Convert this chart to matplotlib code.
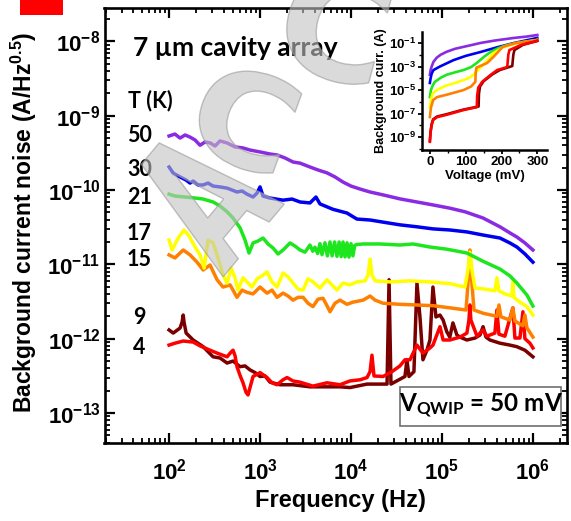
import numpy as np
import matplotlib
matplotlib.use("Agg")
import matplotlib.pyplot as plt
from matplotlib.patches import Rectangle, PathPatch
from matplotlib.textpath import TextPath
from matplotlib.transforms import Affine2D
from matplotlib.font_manager import FontProperties
from matplotlib.ticker import LogLocator, FuncFormatter, NullFormatter, FixedLocator, MultipleLocator

plt.rcParams['font.family'] = ['Liberation Sans', 'DejaVu Sans']
plt.rcParams['font.weight'] = 'bold'
plt.rcParams['mathtext.fontset'] = 'custom'
plt.rcParams['mathtext.rm'] = 'Liberation Sans:bold'
plt.rcParams['mathtext.it'] = 'Liberation Sans:bold'
plt.rcParams['mathtext.bf'] = 'Liberation Sans:bold'
plt.rcParams['mathtext.sf'] = 'Lato:bold'

# ---- noise spectra, frequency (Hz) / noise (A/Hz^0.5) ----
f_50K = [100, 116, 132, 150, 170, 193, 219, 249, 283, 320, 363, 434, 531, 650, 776, 1000, 1290, 1540,
         1880, 2310, 2750, 3540, 4340, 5450, 6670, 8170, 1.0e4, 1.26e4, 1.62e4, 2.25e4, 3.45e4, 5.31e4,
         7.96e4, 1.22e5, 1.79e5, 2.83e5, 4.34e5, 5.58e5, 6.67e5, 8.17e5, 1.0e6]
n_50K = [5.33e-10, 5.66e-10, 5.0e-10, 5.5e-10, 5.15e-10, 4.71e-10, 4.0e-10, 4.43e-10, 4.3e-10, 3.91e-10,
         4.57e-10, 4.3e-10, 3.8e-10, 3.68e-10, 3.45e-10, 3.25e-10, 3.05e-10, 2.96e-10, 2.70e-10, 2.38e-10,
         2.3e-10, 2.04e-10, 1.86e-10, 1.7e-10, 1.5e-10, 1.28e-10, 1.13e-10, 1.03e-10, 9.4e-11, 8.6e-11,
         7.6e-11, 6.9e-11, 6.3e-11, 5.7e-11, 5.1e-11, 4.2e-11, 3.2e-11, 2.65e-11, 2.33e-11, 1.94e-11, 1.56e-11]

f_30K = [100, 111, 132, 154, 170, 184, 208, 237, 268, 305, 363, 434, 492, 558, 634, 719, 838, 927, 1000,
         1079, 1288, 1791, 2249, 2754, 3540, 4120, 4560, 6340, 9040, 1.16e4, 1.62e4, 2.25e4, 3.45e4,
         5.31e4, 7.96e4, 1.22e5, 1.88e5, 2.83e5, 4.34e5, 5.58e5, 6.67e5, 8.17e5, 1.0e6]
n_30K = [2.04e-10, 1.69e-10, 1.5e-10, 1.36e-10, 1.24e-10, 1.32e-10, 1.17e-10, 1.17e-10, 1.24e-10, 1.13e-10,
         1.1e-10, 1.06e-10, 1.0e-10, 9.4e-11, 9.7e-11, 8.8e-11, 8.05e-11, 9.1e-11, 1.1e-10, 8.3e-11,
         7.8e-11, 7.3e-11, 7.56e-11, 6.9e-11, 6.7e-11, 8.05e-11, 6.5e-11, 5.5e-11, 4.9e-11, 4.07e-11,
         3.95e-11, 3.7e-11, 3.4e-11, 3.2e-11, 3.0e-11, 2.9e-11, 2.73e-11, 2.48e-11, 2.26e-11, 1.94e-11,
         1.71e-11, 1.38e-11, 1.07e-11]

f_21K = [100, 116, 150, 193, 237, 305, 363, 434, 505, 603, 684, 757, 838, 950, 1079, 1225, 1390, 1578,
         1791, 2138, 2426, 2754, 3126, 3540, 3800, 4018, 4300, 4560, 4800, 5176, 5500, 5875, 6200, 6600,
         7015, 7400, 7800, 8170, 8600, 9040, 9500, 1.0e4, 1.05e4, 1.1e4, 1.16e4, 1.36e4, 2.08e4, 3.45e4,
         4.8e4, 7.38e4, 1.13e5, 1.88e5, 2.83e5, 4.34e5, 5.58e5, 6.67e5, 8.59e5, 1.0e6]
n_21K = [8.8e-11, 8.3e-11, 8.05e-11, 7.8e-11, 7.56e-11, 6.9e-11, 6.1e-11, 5.1e-11, 4.2e-11, 3.1e-11,
         2.12e-11, 1.42e-11, 1.94e-11, 2.06e-11, 2.26e-11, 1.88e-11, 1.66e-11, 1.38e-11, 1.56e-11, 1.94e-11,
         1.76e-11, 1.56e-11, 1.46e-11, 1.82e-11, 1.5e-11, 1.7e-11, 1.4e-11, 1.9e-11, 1.35e-11, 1.95e-11,
         1.3e-11, 2.0e-11, 1.3e-11, 2.0e-11, 1.28e-11, 2.0e-11, 1.27e-11, 2.0e-11, 1.26e-11, 1.95e-11,
         1.25e-11, 1.9e-11, 1.3e-11, 1.8e-11, 1.85e-11, 1.88e-11, 1.88e-11, 1.82e-11, 1.88e-11, 1.71e-11,
         1.6e-11, 1.42e-11, 1.1e-11, 8.65e-12, 7.0e-12, 5.6e-12, 3.87e-12, 2.75e-12]

f_17K = [100, 108, 126, 146, 166, 193, 219, 243, 268, 305, 345, 392, 434, 480, 531, 573, 650, 719, 817,
         927, 1052, 1194, 1355, 1538, 1791, 2032, 2306, 2618, 2972, 3368, 3819, 4560, 5445, 6180, 7015,
         8170, 9750, 1.16e4, 1.43e4, 1.54e4, 1.62e4, 1.70e4, 1.84e4, 2.69e4, 4.45e4, 7.38e4, 1.22e5,
         1.79e5, 1.93e5, 2.03e5, 2.14e5, 2.31e5, 2.97e5, 3.82e5, 4.02e5, 4.23e5, 4.92e5, 5.87e5, 6.02e5,
         6.18e5, 7.2e5, 8.59e5, 1.0e6]
n_17K = [2.12e-11, 1.56e-11, 2.26e-11, 2.9e-11, 2.41e-11, 1.71e-11, 1.34e-11, 8.9e-12, 2.12e-11, 1.94e-11,
         1.22e-11, 7.2e-12, 5.6e-12, 8.9e-12, 6.6e-12, 4.5e-12, 6.6e-12, 5.8e-12, 4.95e-12, 6.4e-12,
         7.0e-12, 7.9e-12, 5.8e-12, 4.95e-12, 7.65e-12, 6.8e-12, 5.6e-12, 4.65e-12, 4.5e-12, 6.4e-12,
         5.8e-12, 4.8e-12, 6.2e-12, 5.3e-12, 4.5e-12, 5.6e-12, 5.3e-12, 5.8e-12, 6.0e-12, 7.2e-12,
         1.18e-11, 7.2e-12, 6.0e-12, 5.8e-12, 6.0e-12, 5.8e-12, 5.5e-12, 4.95e-12, 8.4e-12, 1.46e-11,
         8.4e-12, 4.8e-12, 4.65e-12, 4.4e-12, 6.6e-12, 4.4e-12, 4.0e-12, 3.75e-12, 5.8e-12, 3.6e-12,
         3.1e-12, 2.7e-12, 2.08e-12]

f_15K = [100, 116, 143, 170, 203, 237, 282, 337, 392, 468, 558, 634, 719, 838, 1000, 1194, 1355, 1538,
         1791, 2032, 2306, 2618, 2972, 3368, 3819, 4335, 4920, 5445, 5875, 6670, 7570, 9040, 1.05e4,
         1.36e4, 1.62e4, 1.84e4, 2.25e4, 3.45e4, 5.31e4, 7.96e4, 1.22e5, 1.84e5, 1.98e5, 2.03e5, 2.08e5,
         2.25e5, 2.83e5, 4.02e5, 4.23e5, 4.45e5, 5.58e5, 6.02e5, 6.34e5, 7.76e5, 8.17e5, 8.59e5, 1.0e6]
n_15K = [1.34e-11, 1.22e-11, 1.56e-11, 1.34e-11, 1.07e-11, 8.4e-12, 9.8e-12, 6.2e-12, 4.95e-12, 5.3e-12,
         3.6e-12, 4.5e-12, 4.2e-12, 4.0e-12, 4.95e-12, 4.1e-12, 4.5e-12, 3.6e-12, 4.1e-12, 3.75e-12,
         3.3e-12, 3.6e-12, 3.6e-12, 3.0e-12, 2.7e-12, 3.4e-12, 3.5e-12, 2.78e-12, 2.3e-12, 3.0e-12,
         3.3e-12, 2.9e-12, 3.1e-12, 3.3e-12, 3.75e-12, 3.3e-12, 3.0e-12, 2.9e-12, 2.84e-12, 2.78e-12,
         2.6e-12, 2.43e-12, 8.4e-12, 1.56e-11, 8.4e-12, 2.43e-12, 2.2e-12, 2.0e-12, 2.84e-12, 1.97e-12,
         1.78e-12, 2.6e-12, 1.73e-12, 1.49e-12, 2.08e-12, 1.4e-12, 1.05e-12]

f_9K = [100, 111, 132, 139, 143, 146, 154, 184, 237, 305, 363, 434, 505, 603, 684, 776, 881, 1000, 1135,
        1288, 1660, 2306, 3540, 5445, 7570, 9750, 1.50e4, 2.25e4, 2.49e4, 2.62e4, 2.75e4, 3.45e4, 3.92e4,
        4.12e4, 4.34e4, 4.92e4, 5.31e4, 5.73e4, 6.18e4, 6.84e4, 7.38e4, 7.96e4, 8.59e4, 9.51e4, 1.03e5,
        1.13e5, 1.22e5, 1.32e5, 1.46e5, 1.58e5, 1.88e5, 2.31e5, 2.62e5, 2.83e5, 3.05e5, 3.37e5, 4.34e5,
        5.58e5, 6.67e5, 8.17e5, 1.0e6]
n_9K = [1.31e-12, 1.19e-12, 1.39e-12, 1.67e-12, 2.08e-12, 1.67e-12, 1.19e-12, 9.6e-13, 7.8e-13, 5.7e-13,
        5.5e-13, 4.7e-13, 5.0e-13, 4.2e-13, 4.3e-13, 3.8e-13, 3.5e-13, 3.1e-13, 3.15e-13, 2.6e-13,
        2.4e-13, 2.4e-13, 2.25e-13, 2.25e-13, 2.25e-13, 2.2e-13, 2.45e-13, 2.45e-13, 2.45e-13, 6.2e-12,
        2.45e-13, 2.85e-13, 3.1e-13, 5.2e-13, 3.1e-13, 3.6e-13, 5.6e-12, 1.96e-12, 5.2e-13, 7.0e-13,
        9.6e-13, 4.95e-12, 1.96e-12, 2.08e-12, 1.78e-12, 1.24e-12, 1.05e-12, 1.63e-12, 1.12e-12, 1.05e-12,
        9.6e-13, 1.02e-12, 1.12e-12, 1.45e-12, 1.05e-12, 9.6e-13, 8.7e-13, 8.2e-13, 7.8e-13, 7.0e-13, 5.7e-13]

f_4K = [100, 116, 143, 184, 219, 282, 337, 434, 480, 505, 531, 558, 603, 650, 701, 738, 776, 838, 1000,
        1194, 1355, 1538, 1791, 1982, 2306, 2754, 3819, 5445, 7570, 9750, 1.26e4, 1.50e4, 1.62e4, 1.70e4,
        1.79e4, 2.25e4, 2.82e4, 3.45e4, 3.92e4, 4.45e4, 5.31e4, 6.18e4, 7.38e4, 7.96e4, 9.51e4, 1.03e5,
        1.22e5, 1.58e5, 1.88e5, 1.98e5, 2.03e5, 2.08e5, 2.43e5, 2.83e5, 3.12e5, 3.82e5, 4.02e5, 4.23e5,
        4.92e5, 6.02e5, 6.34e5, 7.2e5, 7.76e5, 8.17e5, 9.26e5, 1.0e6]
n_4K = [8.2e-13, 8.7e-13, 9.3e-13, 9.0e-13, 8.0e-13, 7.0e-13, 6.4e-13, 5.7e-13, 6.6e-13, 7.0e-13,
        5.9e-13, 4.2e-13, 3.2e-13, 2.55e-13, 1.9e-13, 1.75e-13, 2.2e-13, 3.1e-13, 3.5e-13, 3.0e-13,
        2.55e-13, 2.4e-13, 2.8e-13, 3.0e-13, 2.7e-13, 2.6e-13, 2.3e-13, 2.55e-13, 2.4e-13, 2.7e-13,
        2.8e-13, 3.0e-13, 3.6e-13, 6.0e-13, 3.15e-13, 3.1e-13, 3.6e-13, 4.3e-13, 5.2e-13, 5.2e-13,
        8.2e-13, 6.4e-13, 7.5e-13, 8.2e-13, 1.45e-12, 9.6e-13, 9.6e-13, 1.05e-12, 1.19e-12, 1.78e-12,
        2.84e-12, 1.78e-12, 1.08e-12, 1.31e-12, 1.08e-12, 1.19e-12, 2.43e-12, 1.15e-12, 1.08e-12, 2.6e-12,
        1.02e-12, 1.02e-12, 2.3e-12, 1.0e-12, 8.7e-13, 7.5e-13]

temps = ['50', '30', '21', '17', '15', '9', '4']
temp_label_y = [135, 170, 197, 233, 260, 318, 347]   # pixel rows of the T labels

# ---- inset: I-V curves, voltage (mV) / current (A) ----
v_50K = [0, 2, 5, 10, 19, 30, 47, 70, 94, 120, 141, 180, 235, 270, 300]
i_50K = [2.0e-4, 5e-4, 1e-3, 2.5e-3, 5.6e-3, 1e-2, 1.8e-2, 3.2e-2, 4.7e-2, 7.1e-2, 0.1, 0.16, 0.27, 0.35, 0.48]
v_30K = [0, 2, 5, 10, 28, 66, 100, 141, 190, 235, 300]
i_30K = [4e-5, 1e-4, 2.5e-4, 5e-4, 1e-3, 3.5e-3, 8e-3, 1.7e-2, 4.5e-2, 0.1, 0.27]
v_21K = [0, 3, 8, 14, 30, 47, 70, 94, 115, 131, 150, 169, 190, 216, 250, 300]
i_21K = [2.5e-6, 1e-5, 2.5e-5, 5e-5, 1.1e-4, 2e-4, 3.2e-4, 5e-4, 9e-4, 2e-3, 6.3e-3, 1.7e-2, 3.5e-2,
         6.8e-2, 0.11, 0.18]
v_17K = [0, 3, 8, 19, 47, 70, 94, 110, 122, 141, 160, 178, 206, 240, 300]
i_17K = [3.5e-7, 1.6e-6, 5e-6, 1e-5, 2.5e-5, 4e-5, 7e-5, 1.1e-4, 2e-4, 8e-4, 3.2e-3, 1.4e-2, 4.6e-2, 9e-2, 0.18]
v_15K = [0, 3, 9, 20, 47, 94, 115, 127, 128, 130, 160, 180, 203, 240, 300]
i_15K = [5e-8, 3.2e-7, 1.4e-6, 2.5e-6, 4e-6, 1e-5, 2e-5, 5e-5, 3.2e-4, 8e-4, 2e-3, 7.9e-3, 4.6e-2, 0.1, 0.18]
v_9K = [0, 2, 5, 9, 20, 47, 94, 136, 137, 140, 150, 175, 195, 230, 233, 236, 260, 300]
i_9K = [5e-10, 3.2e-9, 1.3e-8, 3.2e-8, 5.6e-8, 8.9e-8, 2.2e-7, 4e-7, 5e-6, 2e-5, 5.6e-5, 2.2e-4, 5e-4,
        1.1e-3, 1e-2, 2.5e-2, 7e-2, 0.15]
v_4K = [0, 2, 5, 9, 20, 47, 94, 131, 132, 135, 146, 170, 188, 216, 219, 222, 254, 300]
i_4K = [4e-10, 2.5e-9, 1e-8, 2.8e-8, 5e-8, 7.9e-8, 2e-7, 3.5e-7, 3.2e-6, 1.6e-5, 5e-5, 2e-4, 5e-4,
        9.1e-4, 1e-2, 2.5e-2, 6.8e-2, 0.15]

colors = {'50': '#8a2be2', '30': '#0000f0', '21': '#1ee61e', '17': '#ffff00',
          '15': '#ff8000', '9': '#7a0000', '4': '#ff0000'}

W, H = 571, 521
fig = plt.figure(figsize=(W / 100, H / 100), dpi=100)

def fx(px):
    return px / W

def fy(py):
    return 1 - py / H

ax = fig.add_axes([fx(104.5), fy(443), (567 - 104.5) / W, (443 - 8) / H])
series = [(f_9K, n_9K, '9'), (f_4K, n_4K, '4'), (f_15K, n_15K, '15'), (f_17K, n_17K, '17'),
          (f_21K, n_21K, '21'), (f_30K, n_30K, '30'), (f_50K, n_50K, '50')]
for f, n, t in series:
    ax.plot(f, n, color=colors[t], lw=2.5, solid_joinstyle='round')

ax.set_xscale('log')
ax.set_yscale('log')
ax.set_xlim(19.5, 2.37e6)
ax.set_ylim(3.95e-14, 2.81e-8)
dec = FuncFormatter(lambda v, p: r'$10^{%d}$' % int(round(np.log10(v))))
ax.xaxis.set_major_locator(FixedLocator([1e2, 1e3, 1e4, 1e5, 1e6]))
ax.yaxis.set_major_locator(FixedLocator([1e-13, 1e-12, 1e-11, 1e-10, 1e-9, 1e-8]))
for axis in (ax.xaxis, ax.yaxis):
    axis.set_minor_locator(LogLocator(base=10, subs=np.arange(2, 10), numticks=20))
    axis.set_major_formatter(dec)
    axis.set_minor_formatter(NullFormatter())
ax.tick_params(which='major', direction='in', length=7, width=1.6, top=True, right=True, labelsize=16)
ax.tick_params(which='minor', direction='in', length=3.5, width=1.3, top=True, right=True)
ax.tick_params(axis='x', pad=11)
ax.tick_params(axis='y', pad=3)
for s in ax.spines.values():
    s.set_linewidth(1.9)

fig.text(fx(24), fy(222), r'Background current noise (A/Hz$^{0.5}$)', rotation=90,
         ha='center', va='center', fontsize=16.5, fontweight='bold')
fig.text(fx(340), fy(500), 'Frequency (Hz)', ha='center', va='center', fontsize=17, fontweight='bold')

fig.text(fx(133), fy(48), '7 µm cavity array', ha='left', va='center', fontsize=19,
         family='Lato', fontweight='bold')
fig.text(fx(128), fy(101), 'T (K)', ha='left', va='center', fontsize=15.5, family='Lato', fontweight='bold')
for t, py in zip(temps, temp_label_y):
    fig.text(fx(139.5), fy(py), t, ha='center', va='center', fontsize=15.5, family='Lato', fontweight='bold')

# V_QWIP box
fig.add_artist(Rectangle((fx(400), fy(426)), 161 / W, 39 / H, transform=fig.transFigure,
                         facecolor='white', edgecolor='#707070', lw=1.2, zorder=5))
fig.text(fx(481), fy(406), r'V$_{\mathsf{QWIP}}$ = 50 mV', ha='center', va='center', fontsize=17.5,
         family='Lato', fontweight='bold', zorder=6)

# inset
ins = fig.add_axes([fx(422), fy(150), 125 / W, 118 / H])
ins.set_facecolor('none')
inset_series = [(v_50K, i_50K, '50'), (v_30K, i_30K, '30'), (v_21K, i_21K, '21'), (v_17K, i_17K, '17'),
                (v_15K, i_15K, '15'), (v_9K, i_9K, '9'), (v_4K, i_4K, '4')]
for v, i, t in inset_series:
    ins.plot(v, i, color=colors[t], lw=1.9)
ins.set_yscale('log')
ins.set_xlim(-22, 327)
ins.set_ylim(8e-11, 0.86)
ins.yaxis.set_major_locator(FixedLocator([1e-9, 1e-7, 1e-5, 1e-3, 1e-1]))
ins.yaxis.set_minor_locator(FixedLocator([1e-10, 1e-8, 1e-6, 1e-4, 1e-2]))
ins.yaxis.set_major_formatter(dec)
ins.yaxis.set_minor_formatter(NullFormatter())
ins.xaxis.set_major_locator(FixedLocator([0, 100, 200, 300]))
ins.xaxis.set_minor_locator(MultipleLocator(50))
ins.tick_params(which='major', direction='out', length=3, width=1.3, labelsize=9.5, pad=1.5)
ins.tick_params(which='minor', direction='out', length=2, width=1.0)
ins.spines['top'].set_visible(False)
ins.spines['right'].set_visible(False)
for s in ('left', 'bottom'):
    ins.spines[s].set_linewidth(1.8)
ins.set_xlabel('Voltage (mV)', fontsize=9.5, fontweight='bold', labelpad=1)
ins.set_ylabel('Background curr. (A)', fontsize=9, fontweight='bold', labelpad=1)

# red tag in the corner
fig.add_artist(Rectangle((fx(20), fy(15)), 43 / W, 15 / H, transform=fig.transFigure,
                         facecolor='#ff0000', edgecolor='none'))

# watermark letters
def mark(ch, cx, cy, h, w, rot):
    tp = TextPath((0, 0), ch, size=100, prop=FontProperties(family='DejaVu Sans', weight='bold'))
    bb = tp.get_extents()
    tr = (Affine2D().translate(-(bb.x0 + bb.x1) / 2, -(bb.y0 + bb.y1) / 2)
          .scale(w / bb.width, h / bb.height).rotate_deg(rot)
          .translate(cx, H - cy).scale(1 / W, 1 / H))
    fig.add_artist(PathPatch(tr.transform_path(tp), transform=fig.transFigure, facecolor='#c2c2c2',
                             edgecolor='#999999', lw=1.0, alpha=0.6, zorder=8))

mark('A', 202, 197, 135, 95, 50)
mark('C', 245, 118, 98, 90, -20)
mark('C', 335, 25, 110, 95, -15)

fig.savefig('out.png', dpi=100)
